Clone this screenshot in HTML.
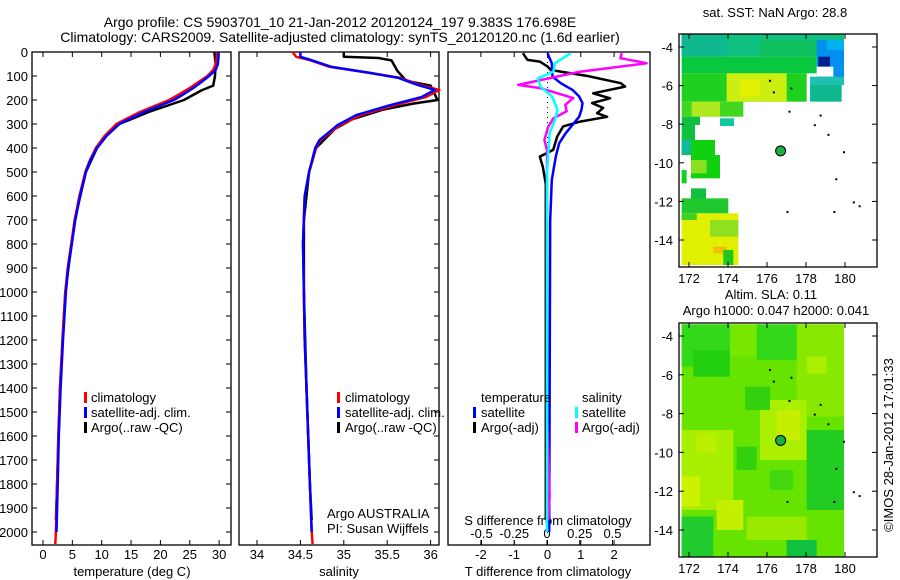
<!DOCTYPE html>
<html><head><meta charset="utf-8"><style>
html,body{margin:0;padding:0;background:#fff;}
svg{display:block;font-family:"Liberation Sans",sans-serif;}
text{fill:#000;}
</style></head><body>
<svg id="c" width="900" height="580" viewBox="0 0 900 580">
<text x="340" y="27" font-size="14" text-anchor="middle">Argo profile: CS 5903701_10 21-Jan-2012 20120124_197 9.383S 176.698E</text>
<text x="340" y="42" font-size="14" text-anchor="middle">Climatology: CARS2009. Satellite-adjusted climatology: synTS_20120120.nc (1.6d earlier)</text>
<g id="maps"></g>
<g id="plots"></g>
<text x="893" y="445" font-size="13" text-anchor="middle" transform="rotate(-90 893 445)">©IMOS 28-Jan-2012 17:01:33</text>
</svg>
<script>
// ---------- data ----------
const depthTicks=[0,100,200,300,400,500,600,700,800,900,1000,1100,1200,1300,1400,1500,1600,1700,1800,1900,2000];
const tempTicks=[0,5,10,15,20,25,30];
const salTicks=[34,34.5,35,35.5,36];
const tdiffTicks=[-2,-1,0,1,2];
const sdiffTicks=[-0.5,-0.25,0,0.25,0.5];
const sdiffLabels=["-0.5","-0.25","0","0.25","0.5"];
const depths=[0,20,50,75,100,125,150,175,200,250,300,350,400,450,500,600,700,800,900,1000,1200,1400,1600,1800,2000,2050];
const tempClim=[29.6,29.6,29.4,29,28,26.5,25,23.3,21.5,16.5,12.5,10.5,9,8,7.2,6.2,5.4,4.8,4.2,3.8,3.3,2.9,2.6,2.4,2.2,2.1];
const tempSat=[29.9,29.9,29.8,29.4,28.3,27,25.6,24,22.3,17.2,13,10.8,9.2,8.1,7.3,6.3,5.5,4.9,4.3,3.9,3.4,3.0,2.7,2.5,2.3,2.3];
const argoDepths=[0,50,100,140,160,200,250,300,350,400,500,700,1000,1400,1800,1950];
const tempArgo=[29.2,29.4,29.3,29,27,24,18,13,10.8,9.2,7.3,5.4,3.8,2.9,2.4,2.2];
const salDepths=[0,20,33,62,87,108,137,158,187,220,262,304,367,400,500,600,800,1000,1200,1400,1600,1800,2000,2050];
const salClim=[34.41,34.45,34.6,34.84,35.3,35.65,35.88,36.1,35.95,35.6,35.2,34.96,34.73,34.68,34.6,34.55,34.53,34.54,34.55,34.57,34.59,34.61,34.63,34.64];
const salSat=[34.5,34.5,34.62,34.86,35.3,35.63,35.85,36.05,35.9,35.55,35.15,34.93,34.72,34.67,34.6,34.55,34.53,34.54,34.55,34.57,34.59,34.61,34.63,34.64];
const salArgoDepths=[0,20,25,35,80,120,140,200,215,240,280,320,400,500,700,1000,1400,1800,1950];
const salArgo=[35.0,35.0,35.4,35.55,35.62,35.72,36.0,36.08,35.8,35.45,35.1,34.9,34.68,34.6,34.54,34.54,34.57,34.61,34.63];
const tdSatDepths=[5,47,103,130,158,185,213,240,270,338,380,436,533,700,2000];
const tdSat=[0,0.13,0.15,0.4,0.75,0.95,1.05,1.02,0.95,0.55,0.35,0.25,0.13,0.08,0.05];
const tdArgoDepths=[5,33,40,60,75,100,130,144,172,193,213,233,255,270,290,310,352,408,436,478,550,1950];
const tdArgo=[-0.74,-0.6,-0.23,0,0.1,1.2,2.2,2.33,1.37,1.88,1.34,1.67,1.49,1.79,0.98,0.47,0.29,0.17,-0.23,-0.14,-0.05,-0.05];
const sdSatDepths=[5,47,82,110,144,186,241,283,338,500,2000];
const sdSat=[0.18,0.06,0.05,-0.07,-0.05,0.04,0.08,0.06,0.02,0.0,0.0];
const sdArgoDepths=[5,26,40,47,82,137,151,192,220,247,276,311,366,408,1500,1850,1950];
const sdArgo=[0.57,0.56,0.7,0.76,0.25,-0.22,-0.05,0.2,0.14,0.15,0.05,0.01,-0.02,0,0,0.02,0.01];

const NS='http://www.w3.org/2000/svg';
function mk(tag,attrs,parent){const e=document.createElementNS(NS,tag);for(const k in attrs)e.setAttribute(k,attrs[k]);parent.appendChild(e);return e;}
const plots=document.getElementById('plots');
const maps=document.getElementById('maps');
const yD=d=>52+d*0.24;
const TOP=52,BOT=545;
const xT=t=>43+5.87*t;
const xS=s=>257+86.8*(s-34);
const xTd=t=>547.5+33.3*t;
const xSd=s=>547+131*s;

function frame(x0,x1,name){
  const r=mk('rect',{x:x0,y:TOP,width:x1-x0,height:BOT-TOP,fill:'none',stroke:'#000','stroke-width':1.3},plots);
  
  
}
function xTicks(vals,labels,fx,yl,name){
  vals.forEach((v,i)=>{
    const x=fx(v);
    mk('line',{x1:x,x2:x,y1:BOT,y2:BOT-5,stroke:'#000'},plots);
    mk('line',{x1:x,x2:x,y1:TOP,y2:TOP+5,stroke:'#000'},plots);
    const t=mk('text',{x:x,y:yl,'font-size':13,'text-anchor':'middle'},plots);
    t.textContent=labels[i];
    
    
  });
}
function line(ds,vs,fx,color,w,name){
  const p=mk('polyline',{points:ds.map((d,i)=>fx(vs[i]).toFixed(1)+','+yD(d).toFixed(1)).join(' '),fill:'none',stroke:color,'stroke-width':w,'stroke-linejoin':'round'},plots);
  
  
}
function txt(x,y,s,name,size,anchor){
  const t=mk('text',{x:x,y:y,'font-size':size||13,'text-anchor':anchor||'start'},plots);
  t.textContent=s;
  
  
  return t;
}
function mark(x,y,color,name){
  const r=mk('rect',{x:x-1,y:y-10,width:3,height:11,fill:color},plots);
  
  
}

frame(32,231,'temperature-panel');
frame(239,439,'salinity-panel');
frame(448,650,'difference-panel');
depthTicks.forEach(d=>{
  const y=yD(d);
  mk('line',{x1:32,x2:37,y1:y,y2:y,stroke:'#000'},plots);
  mk('line',{x1:226,x2:231,y1:y,y2:y,stroke:'#000'},plots);
  mk('line',{x1:434,x2:439,y1:y,y2:y,stroke:'#000'},plots);
  txt(28,y+5,String(d),'depth-tick-label',13,'end');
});
xTicks(tempTicks,tempTicks.map(String),xT,559,'temp-tick-label');
xTicks(salTicks,salTicks.map(String),xS,559,'salinity-tick-label');
xTicks(tdiffTicks,tdiffTicks.map(String),xTd,559,'tdiff-tick-label');
sdiffTicks.forEach((v,i)=>{
  const x=xSd(v);
  mk('line',{x1:x,x2:x,y1:BOT,y2:BOT-5,stroke:'#000'},plots);
  txt(x,538,sdiffLabels[i],'sdiff-tick-label',13,'middle');
});
txt(132,576,'temperature (deg C)','x-axis-title-temperature',13,'middle');
txt(339,576,'salinity','x-axis-title-salinity',13,'middle');
txt(548,576,'T difference from climatology','x-axis-title-tdiff',13,'middle');
txt(548,525,'S difference from climatology','top-axis-title-sdiff',13,'middle');
const z=mk('line',{x1:xTd(0),x2:xTd(0),y1:TOP,y2:BOT,stroke:'#000','stroke-dasharray':'1,4'},plots);



line(argoDepths,tempArgo,xT,'#000',2.5,'temp-argo-line');
line(depths,tempClim,xT,'#f00',2.5,'temp-climatology-line');
line(depths.slice(0,25),tempSat.slice(0,25),xT,'#00f',2.5,'temp-satellite-line');
line(salArgoDepths,salArgo,xS,'#000',2.5,'salinity-argo-line');
line(salDepths,salClim,xS,'#f00',2.5,'salinity-climatology-line');
line(salDepths.slice(0,23),salSat.slice(0,23),xS,'#00f',2.5,'salinity-satellite-line');
line(tdArgoDepths,tdArgo,xTd,'#000',2.5,'tdiff-argo-line');
line(tdSatDepths,tdSat,xTd,'#00f',2.5,'tdiff-satellite-line');
line(sdArgoDepths,sdArgo,xSd,'#f0f',2.5,'sdiff-argo-line');
line(sdSatDepths,sdSat,xSd,'#0ff',2.5,'sdiff-satellite-line');

[['#f00','climatology'],['#00f','satellite-adj. clim.'],['#000','Argo(..raw -QC)']].forEach((e,i)=>{
  const y=402+i*15;
  mark(85,y,e[0],'legend-marker');
  txt(91,y,e[1],'legend-entry');
  mark(338,y,e[0],'legend-marker');
  txt(345,y,e[1],'legend-entry');
});
txt(481,402,'temperature','legend-heading-temperature');
txt(582,402,'salinity','legend-heading-salinity');
[['#00f','#0ff','satellite'],['#000','#f0f','Argo(-adj)']].forEach((e,i)=>{
  const y=417+i*15;
  mark(474,y,e[0],'legend-marker');
  txt(481,y,e[2],'legend-entry');
  mark(576,y,e[1],'legend-marker');
  txt(582,y,e[2],'legend-entry');
});
txt(327,518,'Argo AUSTRALIA','agency-label');
txt(327,533,'PI: Susan Wijffels','pi-label');

// ---------- maps ----------
const lonTicks=[172,174,176,178,180];
const latTicks=[-4,-6,-8,-10,-12,-14];
const argoLon=176.698, argoLat=-9.383;
function mapFrame(originY,top,bot,lat0y,lat14y,name,rects){
  const g=mk('g',{},maps);
  
  
  rects.forEach(r=>{
    mk('rect',{x:660+r[0]/3,y:originY+r[1]/3,width:(r[2]-r[0])/3,height:(r[3]-r[1])/3,fill:r[4]},g);
  });
  const xL=lon=>689+(lon-172)*19.5;
  const yL=lat=>lat0y+(-4-lat)*(lat14y-lat0y)/10;
  mk('rect',{x:679,y:top,width:198,height:bot-top,fill:'none',stroke:'#000','stroke-width':1.3},g);
  lonTicks.forEach(l=>{
    const x=xL(l);
    mk('line',{x1:x,x2:x,y1:bot,y2:bot-5,stroke:'#000'},g);
    mk('line',{x1:x,x2:x,y1:top,y2:top+5,stroke:'#000'},g);
    const t=mk('text',{x:x,y:bot+16,'font-size':13,'text-anchor':'middle'},g);t.textContent=String(l);
    
    
  });
  latTicks.forEach(l=>{
    const y=yL(l);
    mk('line',{x1:679,x2:684,y1:y,y2:y,stroke:'#000'},g);
    mk('line',{x1:872,x2:877,y1:y,y2:y,stroke:'#000'},g);
    const t=mk('text',{x:673,y:y+5,'font-size':13,'text-anchor':'end'},g);t.textContent=String(l);
    
    
  });
  [[176.1,-5.7],[176.3,-6.3],[177.2,-6.1],[177.1,-7.3],[178.7,-7.5],[178.4,-8.0],[179.1,-8.5],[179.9,-9.4],[179.5,-10.8],[180.4,-12.0],[180.7,-12.2],[177.0,-12.5],[179.4,-12.5]].forEach(s=>{
    mk('rect',{x:xL(s[0]),y:yL(s[1]),width:2,height:2,fill:'#000'},g);
  });
  const c=mk('circle',{cx:xL(argoLon),cy:yL(argoLat),r:5,fill:'#18b040',stroke:'#000','stroke-width':1},g);
  
  
}
const sstRects=[
 [65,42,552,110,'#10c080'],[65,42,200,110,'#10b890'],[300,60,470,110,'#10c060'],
 [65,110,470,160,'#08c840'],[470,60,552,190,'#0090f0'],[475,110,510,140,'#002090'],[500,60,552,90,'#00b0f0'],
 [470,140,520,170,'#ffffff'],[450,170,552,195,'#20c0b0'],
 [65,160,440,245,'#20d020'],[200,160,380,245,'#ccee10'],[240,180,300,230,'#e0f000'],[450,195,545,245,'#10b890'],
 [65,245,250,290,'#40d820'],[95,245,180,290,'#b0e820'],
 [65,290,120,315,'#10c040'],[180,295,222,318,'#10c8a0'],
 [65,315,105,405,'#10c040'],[65,360,93,400,'#10b8a0'],[93,360,165,405,'#10d010'],
 [93,405,180,475,'#10d010'],[93,420,140,460,'#88e020'],[65,450,80,490,'#10d020'],
 [93,505,138,545,'#10c040'],[65,535,205,580,'#20c830'],[65,580,235,735,'#e0f000'],[65,580,110,600,'#40d020'],[150,600,235,650,'#90e020'],[160,680,200,700,'#f0c000'],[190,690,220,735,'#20c820']
];
const slaRects=[
 [65,103,552,800,'#66e400'],
 [65,103,210,230,'#33d818'],[100,180,210,260,'#22d010'],[210,103,300,200,'#77e600'],
 [290,103,420,210,'#33d818'],[410,103,552,380,'#88e800'],[440,200,500,250,'#aaee00'],
 [300,330,440,510,'#aaee00'],[350,360,420,450,'#c4f000'],
 [255,290,330,360,'#33d010'],[230,470,290,540,'#33d010'],
 [65,420,220,660,'#a8ee00'],[65,560,120,650,'#ccf200'],[170,630,250,720,'#c4f000'],[110,430,170,490,'#bbef00'],
 [65,680,160,800,'#22cc30'],[440,420,552,660,'#22cc22'],[380,750,470,800,'#10c040'],[330,540,400,600,'#44d810'],[260,680,440,750,'#99ea00']
];
mapFrame(20,34,267,47,240,'sst-map',sstRects);
mapFrame(290,323,557,336,530,'sla-map',slaRects);
const tt=[['sat. SST: NaN Argo: 28.8',775,17,'sst-map-title'],['Altim. SLA: 0.11',771,299,'sla-map-title'],['Argo h1000: 0.047 h2000: 0.041',776,315,'sla-map-subtitle']];
tt.forEach(a=>{const t=mk('text',{x:a[1],y:a[2],'font-size':13,'text-anchor':'middle'},maps);t.textContent=a[0];

});
</script>
</body></html>
